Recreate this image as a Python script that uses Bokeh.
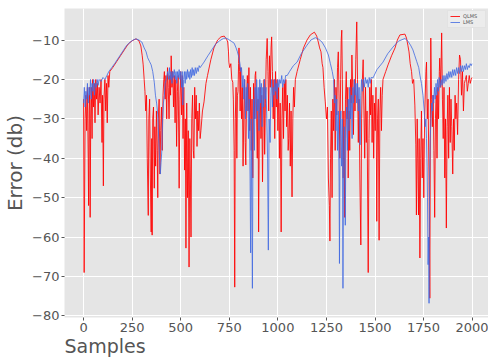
from bokeh.plotting import figure
from bokeh.models import FixedTicker, Title
from bokeh.embed import file_html
from bokeh.resources import INLINE

# ---- data ----
series_names = ["QLMS", "LMS"]
x_ticks = [0, 250, 500, 750, 1000, 1250, 1500, 1750, 2000]
y_ticks = [-80, -70, -60, -50, -40, -30, -20, -10]

qlms_x = [0, 3, 8, 12, 16, 20, 24, 26, 29, 32, 34, 37, 40, 44, 47, 51, 55, 59, 63, 67, 71, 75, 80, 85, 90, 95, 98, 102, 105, 110, 114, 118, 122, 126, 130, 135,
          150, 170, 190, 210, 230, 250, 270, 285, 295, 302, 307, 312, 316,
          320, 324, 328, 333, 336, 340, 344, 348, 351, 353, 356, 360, 364, 367, 371, 375, 379, 382, 385, 389, 393, 397, 401, 405, 409, 413, 416, 420, 424, 428, 432, 436, 440, 444, 448, 451, 455, 459, 463, 467, 471, 475, 479, 483, 487, 492, 496, 500, 504, 508, 512, 516, 520, 524, 527, 531, 535, 539, 543, 547, 550, 553, 557, 561, 565, 568, 572, 576, 580, 584, 588, 592, 596, 600, 604,
          612, 620, 630, 638, 655, 671, 690, 707, 724, 736, 742, 746, 748, 752, 758, 763, 768, 771, 775, 778, 781, 785, 789, 792, 795, 798, 800, 803, 806,
          809, 813, 817, 821, 825, 829, 832, 835, 839, 843, 847, 851, 855, 859, 863, 867, 871, 875, 879, 883, 886, 890, 894, 898, 901, 905, 909, 913, 917, 921, 925, 929, 932, 936, 940, 945, 949, 953, 957, 961, 965, 968, 972, 976, 980, 984, 988, 992, 996, 1000, 1004, 1008, 1012, 1017, 1021, 1025, 1029, 1033, 1037, 1041, 1045, 1049, 1053, 1056, 1060, 1064, 1068, 1073, 1077, 1081, 1085, 1090,
          1099, 1115, 1132, 1150, 1167, 1188, 1200, 1208, 1215, 1222, 1228, 1232, 1238, 1244, 1250, 1255, 1260, 1265, 1268, 1271,
          1275, 1279, 1283, 1287, 1291, 1295, 1299, 1303, 1307, 1311, 1315, 1319, 1323, 1326, 1329, 1332, 1336, 1340, 1344, 1348, 1352, 1356, 1360, 1362, 1366, 1370, 1374, 1378, 1381, 1385, 1389, 1393, 1397, 1401, 1406, 1410, 1414, 1418, 1422, 1427, 1431, 1435, 1439, 1443, 1447, 1451, 1455, 1459, 1465, 1469, 1473, 1477, 1481, 1485, 1489, 1493, 1497, 1501, 1505, 1509, 1513, 1517, 1521, 1525, 1529, 1533, 1537, 1541,
          1555, 1567, 1585, 1603, 1615, 1628, 1654, 1662, 1669, 1675, 1681, 1688, 1693, 1699, 1705, 1710, 1713, 1717, 1720, 1724, 1727, 1731, 1735, 1739, 1743, 1747, 1751, 1755, 1758, 1762, 1765, 1769, 1773, 1778, 1782, 1785, 1787, 1791, 1795, 1799, 1803, 1807, 1811, 1815, 1819, 1823, 1827, 1831, 1833, 1838, 1843, 1847, 1851, 1855, 1859, 1863, 1867, 1871, 1875, 1879, 1883, 1887, 1891, 1895, 1900, 1904, 1908, 1912, 1916, 1920, 1925, 1930, 1935, 1940, 1945, 1950, 1955, 1960, 1965, 1970, 1975, 1980, 1985, 1990, 1995, 1999]
qlms_y = [-25, -69, -30, -24, -33, -22, -40, -52, -28, -22, -55, -30, -22, -35, -20, -27, -21, -31, -20, -25, -21, -29, -22, -26, -20, -36, -24, -47, -25, -20, -28, -21, -31, -19, -22, -18,
          -17, -15.5, -14, -12.5, -11, -10.2, -9.7, -10.2, -11.5, -14, -16.3, -20, -23,
          -28, -24, -40, -54.5, -30, -25, -45, -58.7, -35, -59.5, -30, -27, -47.6, -32, -42, -28, -38, -50, -30, -25, -44, -33, -27, -38, -24, -20, -18, -25, -19, -30, -17, -22, -30, -19, -24, -14, -22, -18, -27, -19, -31, -20, -37, -23, -19, -47.6, -25, -18, -29, -19, -35, -22, -43, -30, -62.8, -26, -50, -33, -67.6, -35, -45, -60, -30, -24, -38, -40, -22, -30, -24, -37, -28, -33, -26, -35, -33,
          -28, -25.7, -21, -19, -15, -12, -10, -9.2, -9, -9.8, -10.5, -13, -15.6, -17, -16, -20, -20.7, -25, -38, -72.7, -30, -22, -40, -24, -23, -16, -12, -18, -28,
          -17, -30, -22, -42, -28, -20, -36, -41.7, -24, -19, -28, -17, -33, -22, -38, -25, -45, -21, -30, -19, -18, -27, -40, -25, -58.7, -30, -22, -35, -24, -46, -28, -20, -39, -26, -15, -9.6, -18, -28, -14, -22, -12, -9.2, -18, -30, -20, -35, -18, -27, -20, -33, -22, -40, -26, -58.7, -30, -22, -35, -21, -28, -20, -32, -24, -38, -35, -26, -42, -28, -49.8, -30, -22, -27, -20,
          -18, -15, -12, -10, -8.7, -8, -9, -10.5, -12, -13, -16, -17, -22, -25.7, -30, -27, -45, -52, -61, -40,
          -28, -50, -25, -33, -20, -38, -22, -29, -17, -13, -25, -40, -20, -10, -7.5, -20, -45, -28, -55, -25, -18, -30, -22, -45, -28, -38, -20, -26, -13.8, -22, -34, -20, -28, -15, -5.4, -20, -36, -25, -45, -62, -30, -20, -15, -28, -40, -22, -36, -28, -69, -35, -22, -29, -20, -36, -24, -40, -26, -33, -22, -56, -30, -25, -60.8, -28, -22, -33, -24, -20,
          -18, -16.3, -14, -12, -10, -8.7, -8.5, -9.5, -11.3, -13, -16, -18, -21, -20, -26.5, -36.6, -54.4, -30, -40, -54.4, -35, -65.3, -40, -28, -45, -35, -50, -30, -25, -18, -15.6, -30, -25, -45, -75.5, -30, -9.5, -25, -32, -24, -38, -55, -30, -24, -40, -22, -30, -18, -14.6, -22, -8.2, -25, -35, -22, -45, -30, -57.7, -32, -24, -40, -22, -36, -25, -32, -44, -30, -38, -24, -30, -26, -34, -20, -13.8, -15, -24, -18, -28, -21, -20, -19, -23, -21, -19, -21, -20, -19.5]

lms_x = [0, 4, 8, 12, 16, 20, 24, 28, 32, 36, 40, 44, 48, 52, 56, 60, 65, 70, 75, 80, 90, 100, 110, 120, 130, 145, 160, 180, 200, 220, 240, 255, 270, 285, 300, 312, 322, 330, 340, 348, 356, 364, 370, 376, 382, 387, 391, 395, 399, 403, 407, 411, 416, 420, 426, 433, 438, 442, 446, 450, 455, 459, 463, 467, 472, 476, 480, 484, 488, 492, 496, 500, 504, 508, 511, 515, 519, 523, 527, 531, 535, 539, 543, 547, 551, 555, 559, 563, 567, 571, 575, 580, 585, 590, 595, 600, 610, 620, 640, 660, 680, 700, 720, 732, 745, 760, 775, 785, 792, 800, 805, 809, 813,
         817, 821, 825, 829, 833, 837, 841, 845, 849, 853, 857, 860, 863, 866, 869, 872, 875, 879, 883, 887, 891, 895, 899, 903, 907, 911, 915, 919, 923, 927, 931, 935, 939, 943, 947, 951, 955, 960, 964, 968, 972, 976, 980, 984, 988, 992, 996, 1000, 1005, 1010, 1015, 1020, 1025, 1030, 1035, 1040, 1048, 1060, 1080, 1099, 1120, 1150, 1170, 1193, 1210, 1227, 1245, 1260, 1270, 1280, 1287,
         1291, 1295, 1299, 1303, 1307, 1311, 1315, 1317, 1320, 1324, 1328, 1332, 1335, 1338, 1342, 1347, 1350, 1354, 1358, 1362, 1366, 1370, 1374, 1378, 1382, 1386, 1390, 1394, 1398, 1402, 1406, 1410, 1414, 1418, 1423, 1427, 1431, 1435, 1440, 1445, 1450, 1455, 1460, 1465, 1470, 1475, 1480, 1490, 1510, 1541, 1565, 1592, 1620, 1654, 1670, 1685, 1695, 1705, 1715, 1725, 1731, 1739, 1747, 1753, 1758, 1762, 1765, 1768, 1770, 1773, 1776, 1778, 1781, 1784, 1788, 1792, 1796, 1798, 1802, 1806, 1810, 1814, 1818, 1822, 1826, 1830, 1835, 1840, 1845, 1850, 1855, 1860, 1865, 1870, 1875, 1880, 1885, 1890, 1895, 1900, 1905, 1910, 1915, 1920, 1925, 1930, 1935, 1940, 1945, 1950, 1955, 1960, 1965, 1970, 1975, 1980, 1985, 1990, 1995, 1999]
lms_y = [-26, -22, -27, -23, -25, -21, -26, -22, -24, -20, -25, -21, -23, -20, -24, -21, -22, -20, -21.5, -20, -20.5, -19.5, -20, -19, -18, -17, -16, -14.5, -13, -11.5, -10.5, -10, -9.7, -10, -10.5, -12, -13, -14.5, -15.5, -16.3, -18, -20.7, -24, -26, -29, -35, -40, -44, -41, -38, -30, -26, -24, -21, -20, -18, -20, -17, -20, -18, -21, -18, -19.5, -17.5, -20, -18, -21, -18, -19.5, -17.5, -20, -18, -22, -18, -26.5, -20, -18, -21, -18, -20, -17.5, -19.5, -18, -20, -17.5, -19.5, -17, -19, -17.5, -19, -17, -18.5, -17, -18, -16.5, -17, -16.3, -15.6, -14, -12.5, -11, -10.2, -9.6, -9.5, -9.8, -10.3, -10.8, -12, -13, -14.5, -16, -18, -17,
         -22, -19, -25, -20, -30, -22, -28, -21, -35, -25, -45, -64, -30, -50, -73, -35, -25, -38, -22, -30, -20, -28, -22, -33, -20, -26, -21, -32, -22, -27, -20, -25, -22, -30, -40, -63.3, -30, -36, -24, -20, -27, -22, -24, -20, -23, -21, -25, -20, -22, -20, -21, -19, -22, -20, -21, -19, -19, -18, -16.5, -15.6, -13.5, -11.3, -10, -9.4, -9.8, -10.5, -12, -13.8, -15.9, -18, -20,
         -26, -24, -33, -25, -38, -28, -45, -66.7, -35, -28, -42, -30, -73, -40, -32, -57, -35, -27, -38, -25, -33, -22, -30, -24, -35, -22, -26, -20, -24, -21, -26, -21, -28, -22, -36.6, -24, -20, -23, -20, -22, -19.5, -21, -20, -22, -19.5, -21, -19.5, -19.6, -17.5, -15.6, -13.5, -11.8, -10.3, -9.6, -10.3, -11.5, -12.5, -14, -15.5, -17, -18.9, -21, -24, -28, -32, -30, -35, -42, -50, -67, -60, -76.8, -45, -35, -30, -26, -28, -24, -26, -22, -25, -21, -24, -20, -23, -19.5, -22, -20, -21.5, -19, -21, -19, -20.5, -18.5, -20, -18, -19.5, -18, -19.5, -17.5, -19, -17.5, -19, -17, -18.5, -17, -18.5, -16.5, -18, -16.5, -18, -16.5, -17.5, -16, -17.5, -16.5, -17, -16, -16.5, -16]

# ---- figure ----
FONT = "DejaVu Sans"
TXT = "#555555"

p = figure(width=488, height=358, x_range=(-98, 2084), y_range=(-80.4, -2.0),
           output_backend="svg", toolbar_location=None,
           min_border_left=64, min_border_right=0, min_border_top=8, min_border_bottom=40)
p.background_fill_color = "#e5e5e5"
p.border_fill_color = "white"
p.outline_line_color = None

p.line(qlms_x, qlms_y, color="red", line_width=1, line_alpha=0.85, legend_label=series_names[0])
p.line(lms_x, lms_y, color="royalblue", line_width=1, line_alpha=0.8, legend_label=series_names[1])

p.xaxis.ticker = FixedTicker(ticks=x_ticks)
p.yaxis.ticker = FixedTicker(ticks=y_ticks)
p.grid.grid_line_color = "white"
p.grid.grid_line_width = 1

for ax in (p.xaxis[0], p.yaxis[0]):
    ax.axis_line_color = None
    ax.major_tick_line_color = TXT
    ax.major_tick_out = 3
    ax.major_tick_in = 0
    ax.minor_tick_line_color = None
    ax.major_label_text_font = FONT
    ax.major_label_text_font_size = "13px"
    ax.major_label_text_color = TXT
    ax.major_label_standoff = 2

p.yaxis.axis_label = "Error (db)"
p.yaxis.axis_label_text_font = FONT
p.yaxis.axis_label_text_font_size = "20px"
p.yaxis.axis_label_text_font_style = "normal"
p.yaxis.axis_label_text_color = TXT
p.yaxis.axis_label_standoff = 2

p.add_layout(Title(text="Samples", align="left", text_font=FONT, text_font_size="19px",
                   text_font_style="normal", text_color=TXT, standoff=0, offset=0,
                   vertical_align="top"), "below")

lg = p.legend[0]
lg.location = "top_right"
lg.label_text_font = FONT
lg.label_text_font_size = "5px"
lg.label_text_color = TXT
lg.glyph_width = 10
lg.glyph_height = 6
lg.label_height = 6
lg.spacing = 0
lg.padding = 2
lg.margin = 2
lg.label_standoff = 3
lg.background_fill_color = "#ececec"
lg.background_fill_alpha = 1
lg.border_line_color = "#d8d8d8"

open("out.html", "w").write(file_html(p, INLINE))
